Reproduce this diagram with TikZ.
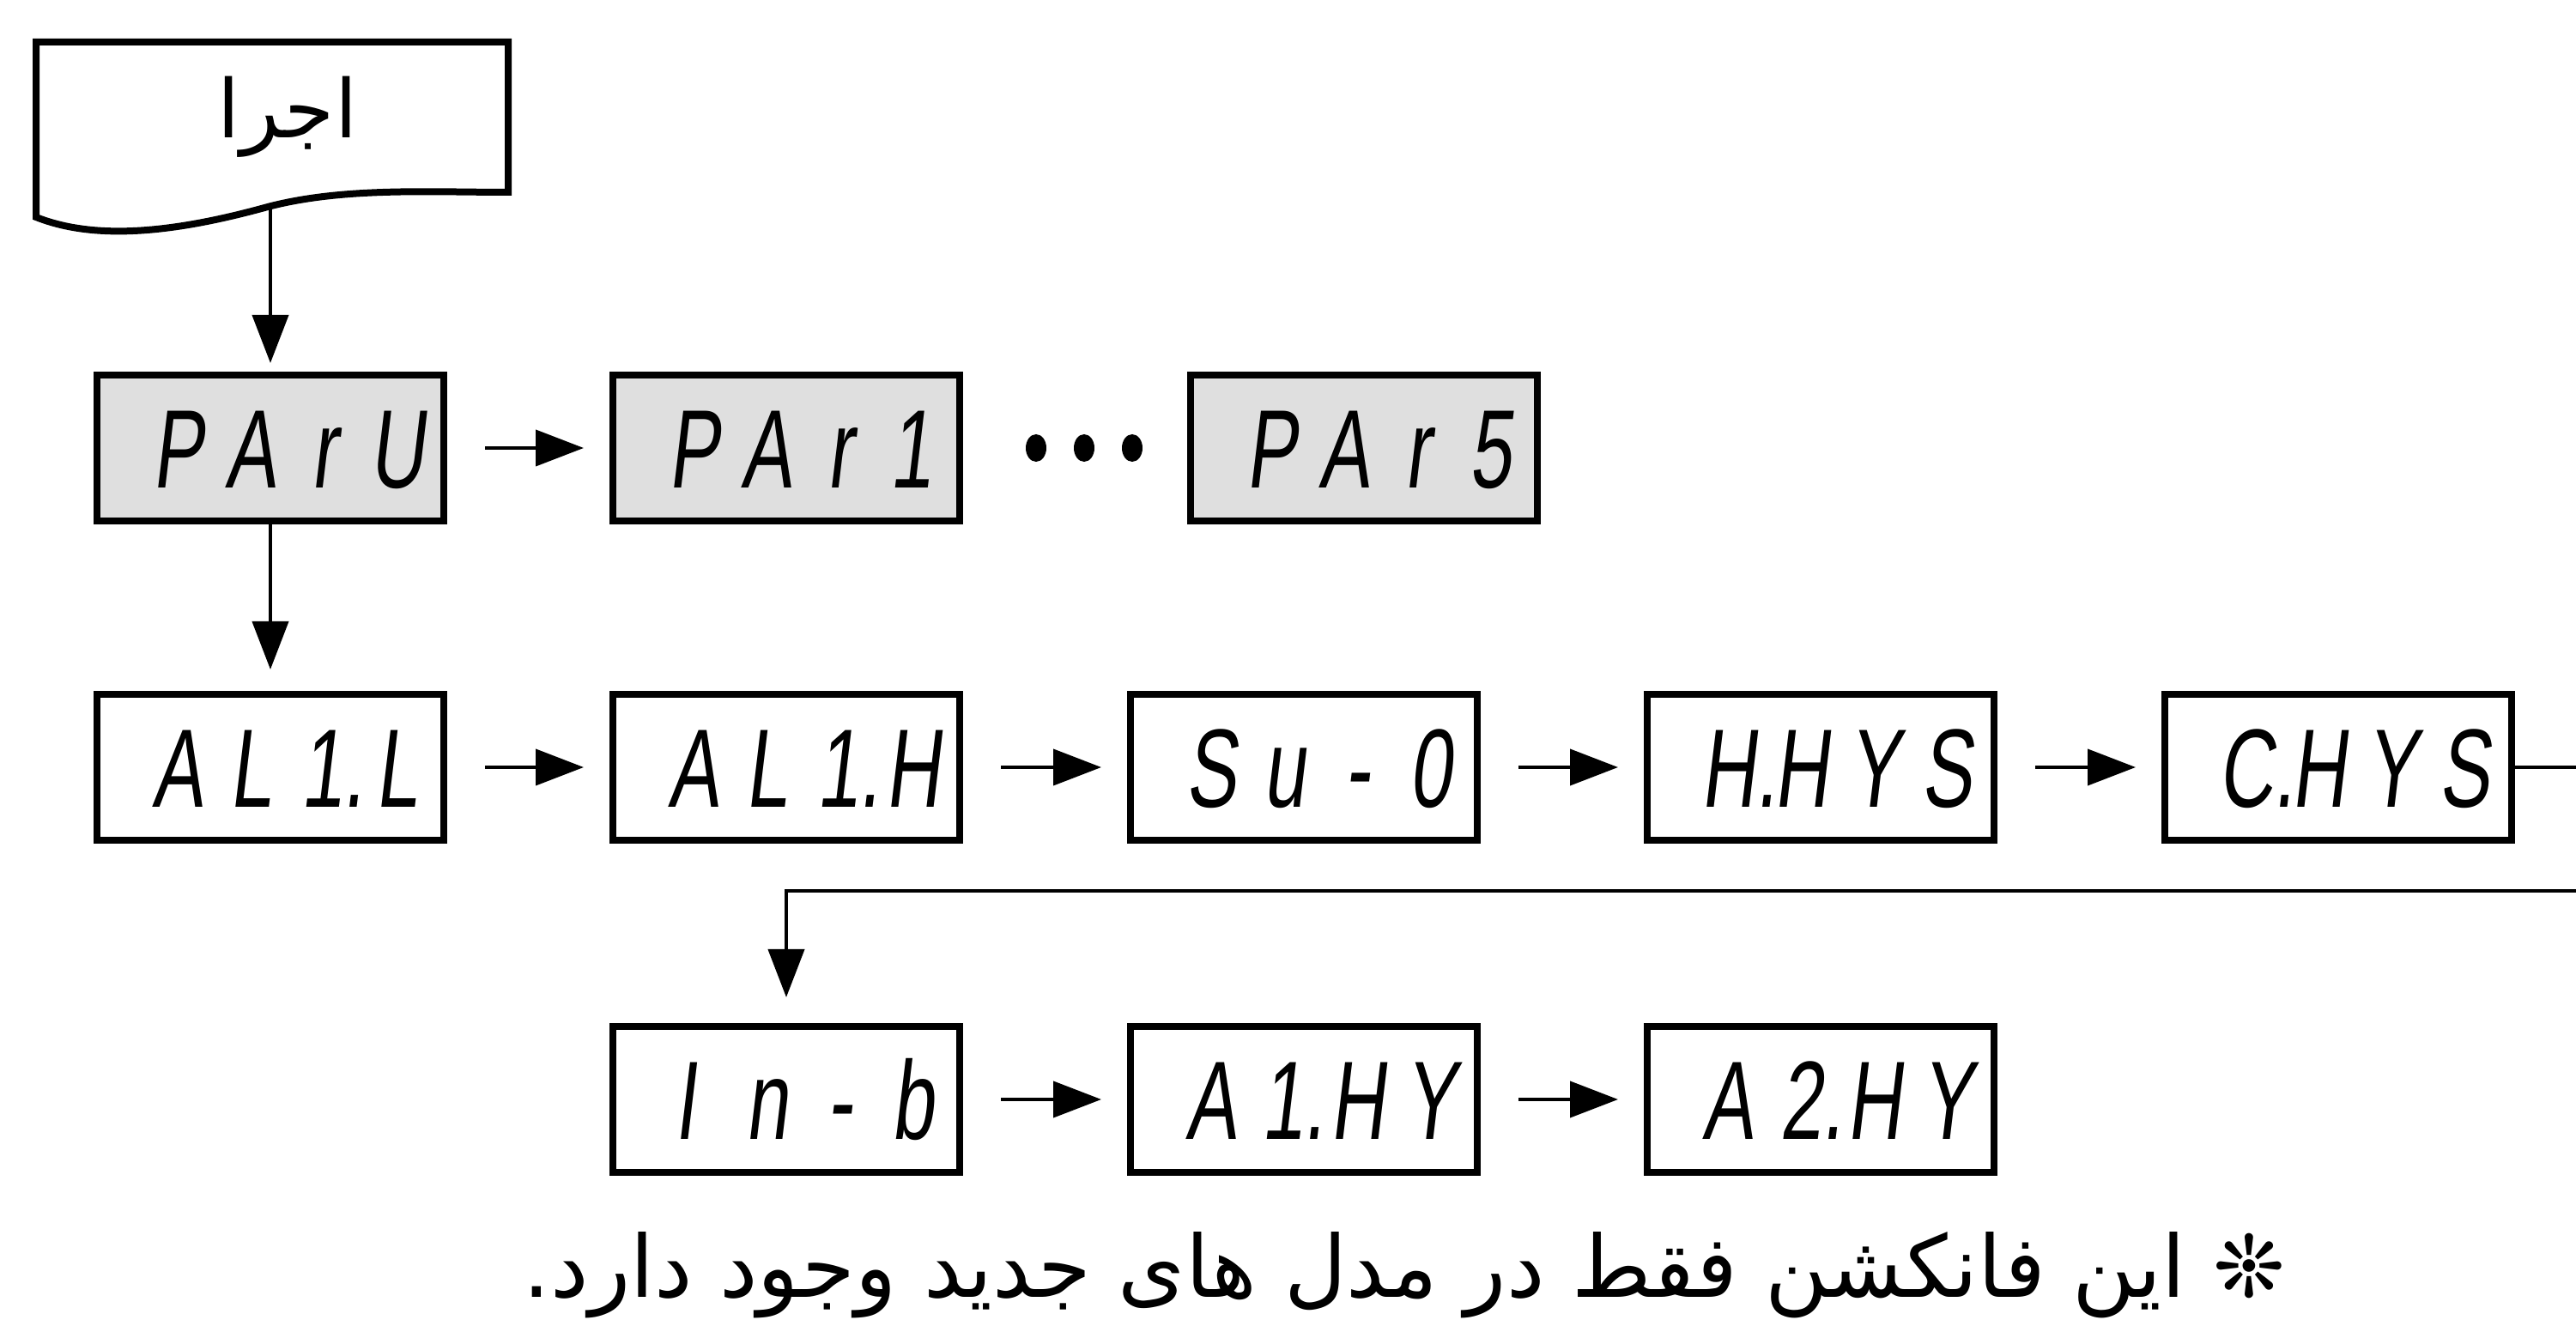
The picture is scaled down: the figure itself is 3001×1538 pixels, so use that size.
\documentclass[tikz,border=0pt]{standalone}
\usepackage{fontspec}
\usetikzlibrary{arrows.meta}
\TeXXeTstate=1
\newfontfamily\segfont[FakeStretch=0.68,FakeSlant=0.12]{Liberation Sans}
\newfontfamily\arabicfont[Script=Arabic]{DejaVu Sans}
\newlength\slotw \setlength\slotw{21.25pt}
\newcommand\sg[1]{\makebox[\slotw][c]{#1}}
\newcommand\sgr[1]{\makebox[\slotw][r]{#1\hspace{5pt}}}
\newcommand\sgl[1]{\makebox[\slotw][l]{\hspace{5pt}#1}}
\newcommand\dpt{\rlap{.}}
\newcommand\disp[4]{\hspace*{9.8pt}#1#2#3#4}
\tikzset{
  disp/.style={draw, line width=2pt, minimum width=101pt, minimum height=42.5pt,
    inner sep=0pt, text height=23.25pt, text depth=0pt,
    font=\segfont\fontsize{32.5}{39}\selectfont},
  pbox/.style={disp, fill=gray!25},
  conn/.style={line width=1pt},
  arr/.style={conn, -{Triangle[length=14pt,width=10.5pt]}},
  harr/.style={arr, shorten <=11pt, shorten >=7.5pt},
  arabtxt/.style={font=\arabicfont\fontsize{25}{30}\selectfont, anchor=base, inner sep=0pt},
}
\begin{document}
\begin{tikzpicture}[x=0.25pt,y=-0.25pt]
\useasboundingbox (0,0) rectangle (3001,1538);
\clip (0,0) rectangle (3001,1538);

% start (document) shape
\draw[line width=2pt, line join=miter] (592,224) -- (592,49) -- (42,49) -- (42,253)
  .. controls (110,280) and (200,272) .. (312,241)
  .. controls (400,218) and (500,224) .. (592,224) -- cycle;
\node[arabtxt, font=\arabicfont\fontsize{23.5}{28}\selectfont] (run) at (335,161) {\beginR اجرا\endR};
\coordinate (runout) at (315,241);

% row 1
\node[pbox] (paru) at (315,522) {\disp{\sg{P}}{\sg{A}}{\sg{r}}{\sg{U}}};
\node[pbox] (par1) at (916,522) {\disp{\sg{P}}{\sg{A}}{\sg{r}}{\sgr{1}}};
\node[pbox] (par5) at (1589,522) {\disp{\sg{P}}{\sg{A}}{\sg{r}}{\sg{5}}};

% row 2
\node[disp] (al1l) at (315,894) {\disp{\sg{A}}{\sg{L}}{\sgr{1\dpt}}{\sg{L}}};
\node[disp] (al1h) at (916,894) {\disp{\sg{A}}{\sg{L}}{\sgr{1\dpt}}{\sg{H}}};
\node[disp] (suo) at (1519,894) {\disp{\sg{S}}{\sg{u}}{\sg{-}}{\sg{0}}};
\node[disp] (hhys) at (2121,894) {\disp{\sg{H\dpt}}{\sg{H}}{\sg{Y}}{\sg{S}}};
\node[disp] (chys) at (2724,894) {\disp{\sg{C\dpt}}{\sg{H}}{\sg{Y}}{\sg{S}}};

% row 3
\node[disp] (inb) at (916,1281) {\disp{\sgl{I}}{\sg{n}}{\sg{-}}{\sg{b}}};
\node[disp] (a1hy) at (1519,1281) {\disp{\sg{A}}{\sgr{1\dpt}}{\sg{H}}{\sg{Y}}};
\node[disp] (a2hy) at (2121,1281) {\disp{\sg{A}}{\sg{2\dpt}}{\sg{H}}{\sg{Y}}};

% dots
\fill (1207,522) ellipse [x radius=12, y radius=16];
\fill (1263,522) ellipse [x radius=12, y radius=16];
\fill (1319,522) ellipse [x radius=12, y radius=16];

% connectors
\draw[arr, shorten >=2.5pt] (runout) -- (paru.north);
\draw[harr] (paru) -- (par1);
\draw[arr, shorten >=6.25pt] (paru) -- (al1l);
\draw[harr] (al1l) -- (al1h);
\draw[harr] (al1h) -- (suo);
\draw[harr] (suo) -- (hhys);
\draw[harr] (hhys) -- (chys);
\draw[harr] (inb) -- (a1hy);
\draw[harr] (a1hy) -- (a2hy);
\coordinate (loopA) at (3015,894);
\coordinate (loopB) at (3015,1038);
\draw[arr, shorten >=7.5pt] (chys.east) -- (loopA) -- (loopB) -- (inb.north |- loopB) -- (inb.north);

% note
\node[arabtxt] (note) at (1636,1512) {\beginR ❊ این فانکشن فقط در مدل های جدید وجود دارد.\endR};
\end{tikzpicture}
\end{document}
